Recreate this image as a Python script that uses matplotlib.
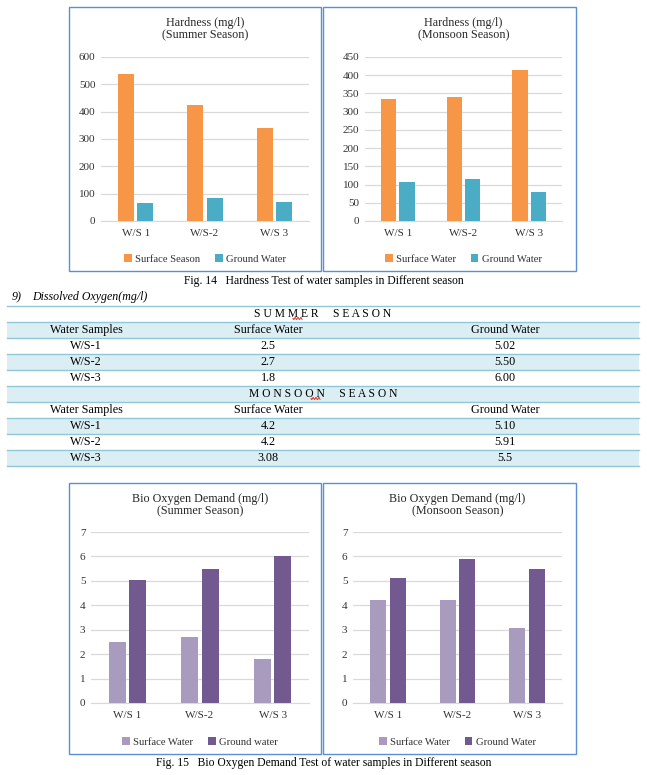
import numpy as np
import matplotlib
matplotlib.use("Agg")
import matplotlib.pyplot as plt
from matplotlib.patches import Rectangle

plt.rcParams['font.family'] = ['Liberation Serif', 'DejaVu Serif']

# data
samples = ["W/S 1", "W/S-2", "W/S 3"]
hard_summer_surface = [538, 424, 340]
hard_summer_ground = [67, 84, 71]
hard_monsoon_surface = [335, 340, 415]
hard_monsoon_ground = [107, 115, 80]

table_samples = ["W/S-1", "W/S-2", "W/S-3"]
do_summer_surface = ["2.5", "2.7", "1.8"]
do_summer_ground = ["5.02", "5.50", "6.00"]
do_monsoon_surface = ["4.2", "4.2", "3.08"]
do_monsoon_ground = ["5.10", "5.91", "5.5"]

W, H = 647, 775
ORANGE = "#F79646"
TEAL = "#4BACC6"
LPURP = "#A99BBE"
DPURP = "#72598F"
BOX = "#5B8FD4"
GRID = "#D9D9D9"
TXT = "#333333"

fig = plt.figure(figsize=(W / 100, H / 100), dpi=100)
bg = fig.add_axes([0, 0, 1, 1])
bg.set_xlim(0, W)
bg.set_ylim(H, 0)
bg.axis("off")

# chart frames
for x0, y0, x1, y1 in [(69, 7, 321, 271), (323, 7, 576, 271),
                       (69, 483, 321, 754), (323, 483, 576, 754)]:
    bg.add_patch(Rectangle((x0, y0), x1 - x0, y1 - y0, facecolor="white",
                           edgecolor=BOX, lw=1.0))


def px_axes(x0, y0, x1, y1):
    return fig.add_axes([x0 / W, 1 - y1 / H, (x1 - x0) / W, (y1 - y0) / H])


def bar_chart(box, title, s1, s2, c1, c2, lab1, lab2, ymax, step, title_y):
    ax = px_axes(*box)
    ax.set_facecolor("none")
    x = np.arange(len(samples))
    ax.bar(x - 0.14, s1, width=0.23, color=c1, label=lab1, zorder=3)
    ax.bar(x + 0.14, s2, width=0.23, color=c2, label=lab2, zorder=3)
    ax.set_xlim(-0.5, len(samples) - 0.5)
    ax.set_ylim(0, ymax)
    ax.set_yticks(np.arange(0, ymax + step / 2, step))
    ax.set_xticks(x)
    ax.set_xticklabels(samples)
    ax.yaxis.grid(True, color=GRID, lw=0.9, zorder=0)
    for s in ["top", "right", "left"]:
        ax.spines[s].set_visible(False)
    ax.spines["bottom"].set_color(GRID)
    ax.tick_params(length=0, labelsize=8, labelcolor=TXT, pad=4)
    ax.tick_params(axis="x", pad=6)
    ax.legend(loc="upper center", bbox_to_anchor=(0.5, -0.145), ncol=2,
              frameon=False, fontsize=7.7, handlelength=0.7, handleheight=0.7,
              handletextpad=0.3, columnspacing=1.4, labelcolor=TXT)
    cx = (box[0] + box[2]) / 2
    fig.text(cx / W, 1 - title_y / H, title, ha="center", va="center",
             fontsize=8.7, color="#262626", linespacing=1.1)
    return ax


bar_chart((101, 57, 309, 221), "Hardness (mg/l)\n(Summer Season)",
          hard_summer_surface, hard_summer_ground, ORANGE, TEAL,
          "Surface Season", "Ground Water", 600, 100, 29)
bar_chart((365, 57, 562, 221), "Hardness (mg/l)\n(Monsoon Season)",
          hard_monsoon_surface, hard_monsoon_ground, ORANGE, TEAL,
          "Surface Water", "Ground Water", 450, 50, 29)

bod_ss = [float(v) for v in do_summer_surface]
bod_sg = [float(v) for v in do_summer_ground]
bod_ms = [float(v) for v in do_monsoon_surface]
bod_mg = [float(v) for v in do_monsoon_ground]
bar_chart((91, 532, 309, 703), "Bio Oxygen Demand (mg/l)\n(Summer Season)",
          bod_ss, bod_sg, LPURP, DPURP, "Surface Water", "Ground water", 7, 1, 505)
bar_chart((353, 532, 562, 703), "Bio Oxygen Demand (mg/l)\n(Monsoon Season)",
          bod_ms, bod_mg, LPURP, DPURP, "Surface Water", "Ground Water", 7, 1, 505)

# captions
bg.text(324, 281, "Fig. 14   Hardness Test of water samples in Different season",
        ha="center", va="center", fontsize=8.4)
bg.text(324, 763, "Fig. 15   Bio Oxygen Demand Test of water samples in Different season",
        ha="center", va="center", fontsize=8.4)
bg.text(12, 297, "9)", ha="left", va="center", fontsize=8.6, style="italic")
bg.text(32, 297, "Dissolved Oxygen(mg/l)", ha="left", va="center",
        fontsize=8.6, style="italic")

# table
rows = [("SUMMER SEASON",), ("Water Samples", "Surface Water", "Ground Water")]
rows += list(zip(table_samples, do_summer_surface, do_summer_ground))
rows += [("MONSOON SEASON",), ("Water Samples", "Surface Water", "Ground Water")]
rows += list(zip(table_samples, do_monsoon_surface, do_monsoon_ground))

tx0, tx1, ty0, rh = 7, 639, 306, 16
col_x = [86, 268, 505]
for i, row in enumerate(rows):
    y = ty0 + i * rh
    if i % 2 == 1:
        bg.add_patch(Rectangle((tx0, y), tx1 - tx0, rh, facecolor="#DAEEF3",
                               edgecolor="none", zorder=1))
    bg.plot([tx0, tx1], [y, y], color="#8FC7D8", lw=1.0, zorder=2)
    if len(row) == 1:
        bg.text(323, y + rh / 2, " ".join(row[0].replace(" ", "  ")), ha="center",
                va="center", fontsize=8.4, zorder=3)
    else:
        for cx, t in zip(col_x, row):
            bg.text(cx, y + rh / 2, t, ha="center", va="center", fontsize=8.7, zorder=3)
bg.plot([tx0, tx1], [ty0 + len(rows) * rh] * 2, color="#8FC7D8", lw=1.0, zorder=2)

# spell-check squiggles under the season headings
for sx, sy in [(293, 318.5), (311, 398.5)]:
    t = np.linspace(0, 9, 40)
    bg.plot(sx + t, sy + 1.0 * np.sin(t * 2.2), color="#E03030", lw=0.7, zorder=4)

fig.savefig("out.png", dpi=100)
